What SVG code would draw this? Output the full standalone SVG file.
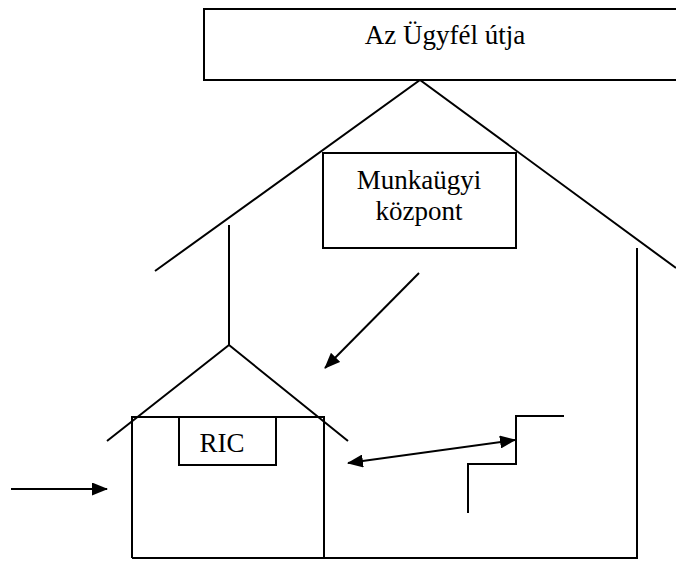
<svg xmlns="http://www.w3.org/2000/svg" width="676" height="561" viewBox="0 0 676 561">
  <style>
    .ln { fill: none; stroke: #000; stroke-width: 2; stroke-linecap: butt; }
    .box { fill: #fff; stroke: #000; stroke-width: 2; }
    .lbl { font-family: "Liberation Serif", "Times New Roman", serif; font-size: 27px; fill: #000; text-anchor: middle; }
  </style>
  <defs>
    <marker id="ah" viewBox="0 0 16 13" refX="15" refY="6.5" markerWidth="16" markerHeight="13" markerUnits="userSpaceOnUse" orient="auto-start-reverse">
      <path d="M0,0 L16,6.5 L0,13 Z" fill="#000"/>
    </marker>
  </defs>
  <rect width="676" height="561" fill="#fff"/>

  <!-- house outlines -->
  <g id="structure">
    <!-- big roof -->
    <polyline class="ln" points="155,271 420,80 676,268"/>
    <!-- big house right wall and floor -->
    <polyline class="ln" points="637,248 637,558 132,558"/>
    <!-- small house post and roof -->
    <line class="ln" x1="229" y1="225" x2="229" y2="345"/>
    <polyline class="ln" points="107,441 229,345 348,441"/>
    <!-- small house walls -->
    <polyline class="ln" points="132,558 132,417 324,417 324,558"/>
    <!-- stairs -->
    <polyline class="ln" points="564,416 516,416 516,464 468,464 468,513"/>
  </g>

  <g id="ugyfel-utja">
    <rect class="box" x="204" y="9" width="480" height="71"/>
    <text class="lbl" x="445" y="44">Az Ügyfél útja</text>
  </g>

  <g id="munkaugyi-kozpont">
    <rect class="box" x="323" y="153" width="193" height="95"/>
    <text class="lbl" x="419" y="189">Munkaügyi</text>
    <text class="lbl" x="419" y="220">központ</text>
  </g>

  <g id="ric">
    <rect class="box" x="179" y="417" width="97" height="48"/>
    <text class="lbl" x="222" y="452">RIC</text>
  </g>

  <g id="connectors">
    <line class="ln" x1="419" y1="273" x2="325" y2="368" marker-end="url(#ah)"/>
    <line class="ln" x1="348" y1="463" x2="515" y2="440" marker-start="url(#ah)" marker-end="url(#ah)"/>
    <line class="ln" x1="11" y1="489" x2="107" y2="489" marker-end="url(#ah)"/>
  </g>
</svg>
